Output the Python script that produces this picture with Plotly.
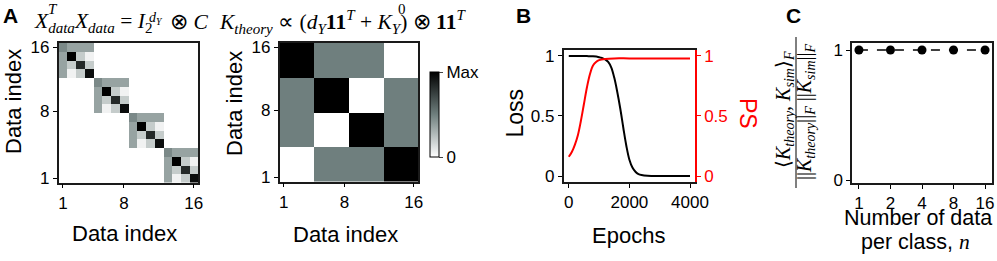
import numpy as np
import plotly.graph_objects as go

W, H = 997, 261
def fx(p): return p / W
def fy(p): return 1 - p / H

# ---------------- data ----------------
data_index = list(range(1, 17))
# within-class block of X^T X (display order, top row first)
block_C = [[0.46, 0.36, 0.36, 0.36],
           [0.36, 1.00, 0.20, 0.05],
           [0.36, 0.20, 0.84, 0.20],
           [0.36, 0.05, 0.20, 0.95]]
# class-level structure of K_theory (display order, top row first)
class_blocks = [[1.0, 0.5, 0.5, 0.0],
                [0.5, 1.0, 0.0, 0.5],
                [0.5, 0.0, 1.0, 0.5],
                [0.0, 0.5, 0.5, 1.0]]
K_data = np.kron(np.eye(4), np.array(block_C))[::-1]
K_theory = np.kron(np.array(class_blocks), np.ones((4, 4)))[::-1]

epochs_loss = [0, 200, 400, 600, 800, 1000, 1100, 1200, 1300, 1400, 1500, 1600, 1700,
               1800, 1900, 2000, 2100, 2200, 2300, 2400, 2600, 3000, 3500, 4000]
loss = [1.0, 1.0, 1.0, 0.999, 0.997, 0.99, 0.983, 0.972, 0.95, 0.905, 0.82, 0.70, 0.56,
        0.40, 0.25, 0.135, 0.07, 0.035, 0.016, 0.008, 0.002, 0.0, 0.0, 0.0]
epochs_ps = [0, 100, 200, 300, 400, 500, 600, 700, 800, 900, 1000, 1200, 1500,
             2000, 3000, 4000]
ps = [0.16, 0.20, 0.26, 0.34, 0.46, 0.60, 0.74, 0.85, 0.92, 0.95, 0.965, 0.975, 0.98,
      0.98, 0.98, 0.98]

n_per_class = ["1", "2", "4", "8", "16"]
alignment = [1.0, 1.0, 1.0, 1.0, 1.0]

heat_ticks = [1, 8, 16]
heat_tick_y = [1, 8.7, 16]

# ---------------- figure ----------------
GRAY = [[0, "#ffffff"], [0.5, "#6f7f7e"], [1, "#000000"]]
SANS = "Liberation Sans"
SERIF = "Liberation Serif"
TF = dict(family=SANS, size=17, color="black")

fig = go.Figure()
fig.add_trace(go.Heatmap(x=data_index, y=data_index, z=K_data, coloraxis="coloraxis",
                         xaxis="x", yaxis="y", hoverinfo="skip"))
fig.add_trace(go.Heatmap(x=data_index, y=data_index, z=K_theory, coloraxis="coloraxis",
                         xaxis="x2", yaxis="y2", hoverinfo="skip"))
fig.add_trace(go.Scatter(x=epochs_loss, y=loss, mode="lines", line=dict(color="black", width=2, shape="spline"),
                         xaxis="x3", yaxis="y3", hoverinfo="skip"))
fig.add_trace(go.Scatter(x=epochs_ps, y=ps, mode="lines", line=dict(color="#ff0000", width=2, shape="spline"),
                         xaxis="x3", yaxis="y4", hoverinfo="skip"))
fig.add_trace(go.Scatter(x=n_per_class, y=alignment, mode="lines+markers",
                         line=dict(color="black", width=1.5, dash="dash"),
                         marker=dict(size=9, color="black"), xaxis="x5", yaxis="y5", hoverinfo="skip"))

def ax(**kw):
    d = dict(ticks="outside", ticklen=4, tickwidth=1.2, tickcolor="black", showline=True,
             linecolor="#1a1a1a", linewidth=1.5, mirror=True, showgrid=False, zeroline=False,
             tickfont=TF, fixedrange=True, automargin=False)
    d.update(kw)
    return d

layout = dict(
    width=W, height=H, autosize=False, margin=dict(l=0, r=0, t=0, b=0, pad=0, autoexpand=False),
    paper_bgcolor="white", plot_bgcolor="white", showlegend=False,
    coloraxis=dict(colorscale=GRAY, cmin=0, cmax=1,
                   colorbar=dict(x=fx(430), xanchor="left", y=fy(114.5), yanchor="middle",
                                 len=85 / H, lenmode="fraction", thickness=9, thicknessmode="pixels",
                                 outlinewidth=1, outlinecolor="black", tickvals=[0, 1],
                                 ticktext=["0", "Max"], ticks="outside", ticklen=4,
                                 tickfont=TF, xpad=0, ypad=0)),
    xaxis=ax(domain=[fx(58.5), fx(198)], range=[0.5, 16.5], tickvals=heat_ticks,
             ticktext=[str(t) for t in heat_ticks], anchor="y"),
    yaxis=ax(domain=[fy(182.5), fy(43)], range=[0.5, 16.5], tickvals=heat_tick_y,
             ticktext=[str(t) for t in heat_ticks], anchor="x"),
    xaxis2=ax(domain=[fx(279.5), fx(418)], range=[0.5, 16.5], tickvals=heat_ticks,
              ticktext=[str(t) for t in heat_ticks], anchor="y2"),
    yaxis2=ax(domain=[fy(181.5), fy(43)], range=[0.5, 16.5], tickvals=heat_tick_y,
              ticktext=[str(t) for t in heat_ticks], anchor="x2"),
    xaxis3=ax(domain=[fx(563.5), fx(695)], range=[-174, 4164], tickvals=[0, 2000, 4000], anchor="y3"),
    yaxis3=ax(domain=[fy(182), fy(49.5)], range=[-0.05, 1.054], tickvals=[0, 0.5, 1],
              ticktext=["0", "0.5", "1"], mirror=False, anchor="x3"),
    yaxis4=ax(domain=[fy(182), fy(49.5)], range=[-0.05, 1.054], tickvals=[0, 0.5, 1],
              ticktext=["0", "0.5", "1"], mirror=False, overlaying="y3", side="right",
              anchor="x3", linecolor="#ff0000", tickcolor="#ff0000",
              tickfont=dict(family=SANS, size=17, color="#ff0000")),
    xaxis5=ax(domain=[fx(852), fx(992)], type="category", range=[-0.22, 4.22], anchor="y5"),
    yaxis5=ax(domain=[fy(183), fy(43)], range=[-0.02, 1.054], tickvals=[0, 1],
              ticktext=["0", "1"], anchor="x5"),
)
fig.update_layout(**layout)

ann = []
def A(x, y, text, size=22, color="black", family=SANS, angle=0, xanchor="center", **kw):
    ann.append(dict(x=fx(x), y=fy(y), xref="paper", yref="paper", text=text, showarrow=False,
                    font=dict(family=family, size=size, color=color), textangle=angle,
                    xanchor=xanchor, yanchor="middle", borderpad=0, **kw))

# panel letters
A(10, 15, "<b>A</b>", size=21)
A(523, 15, "<b>B</b>", size=21)
A(793, 16, "<b>C</b>", size=21)

# axis titles
A(14, 102, "Data index", angle=-90)
A(124.5, 233, "Data index")
A(234, 104, "Data index", angle=-90)
A(345, 234, "Data index")
A(514.5, 113, "Loss", angle=-90, size=23)
A(748, 113, "PS", angle=90, color="#ff0000", size=23)
A(628, 235, "Epochs")
A(918, 218, "Number of data", size=21.5)
A(915, 242, "per class, <span style='font-family:Liberation Serif'><i>n</i></span>", size=21.5)

# panel A title (math)
A(33, 22, "<i>X</i><sub><i>data</i></sub><i>X</i><sub><i>data</i></sub> = <i>I</i><sub>2</sub>",
  size=21.5, family=SERIF, xanchor="left")
A(53, 9, "<i>T</i>", size=15, family=SERIF)
A(148, 19, "<i>d</i><sub><i>Y</i></sub>", size=14, family=SERIF, xanchor="left")
A(169, 22, "⊗ <i>C</i>", size=21.5, family=SERIF, xanchor="left")
A(218, 22, "<i>K</i><sub><i>theory</i></sub> ∝ (<i>d</i><sub><i>Y</i></sub><b>11</b><sup><i>T</i></sup> + <i>K</i><sub><i>Y</i></sub>) ⊗ <b>11</b><sup><i>T</i></sup>",
  size=21.5, family=SERIF, xanchor="left")
A(402, 9, "0", size=15, family=SERIF)

# panel C y-title (fraction)
A(784, 110, "⟨<i>K</i><sub><i>theory</i></sub>, <i>K</i><sub><i>sim</i></sub>⟩<sub><i>F</i></sub>",
  size=20, family=SERIF, angle=-90)
A(805, 112, "||<i>K</i><sub><i>theory</i></sub>||<sub><i>F</i></sub> ||<i>K</i><sub><i>sim</i></sub>||<sub><i>F</i></sub>",
  size=20, family=SERIF, angle=-90)
fig.update_layout(annotations=ann)
fig.add_shape(type="line", xref="paper", yref="paper", x0=fx(796), x1=fx(796), y0=fy(37), y1=fy(188),
              line=dict(color="black", width=1))

fig.write_html("out.html", config={"displayModeBar": False, "responsive": False},
               post_script="document.body.style.margin='0px';document.documentElement.style.overflow='hidden';document.body.style.overflow='hidden';")
